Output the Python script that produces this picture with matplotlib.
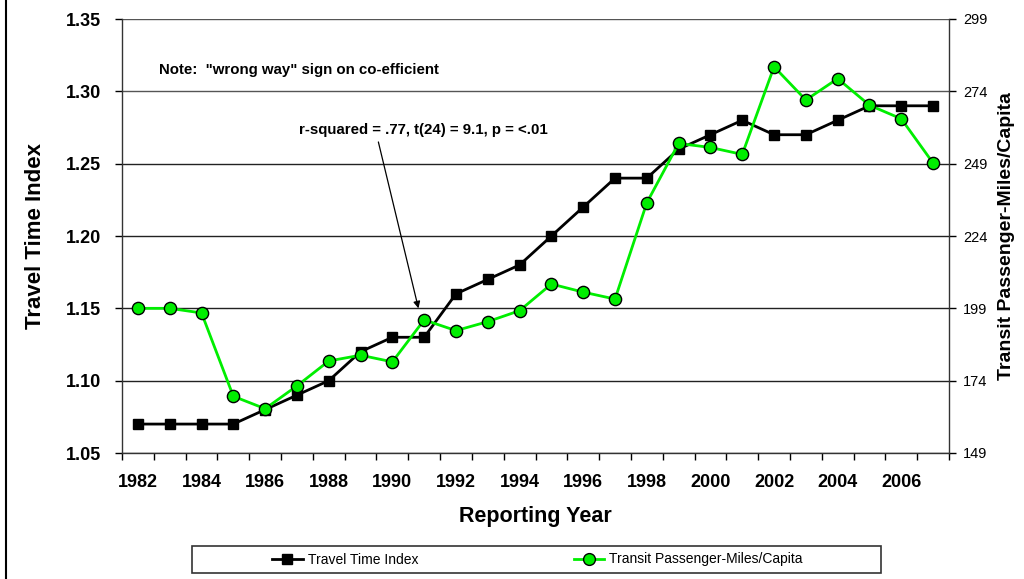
import matplotlib
matplotlib.use("Agg")
import matplotlib.pyplot as plt
from matplotlib.patches import Rectangle
from matplotlib.lines import Line2D
import numpy as np

plt.rcParams['font.family'] = ['Liberation Sans', 'DejaVu Sans']

years = list(range(1982, 2008))
travel_time_index = [1.07, 1.07, 1.07, 1.07, 1.08, 1.09, 1.10, 1.12, 1.13, 1.13,
                     1.16, 1.17, 1.18, 1.20, 1.22, 1.24, 1.24, 1.26, 1.27, 1.28,
                     1.27, 1.27, 1.28, 1.29, 1.29, 1.29]
transit_pmc = [199.0, 199.0, 197.4, 168.6, 164.3, 172.2, 180.8, 182.8, 180.5, 195.0,
               191.3, 194.4, 198.2, 207.4, 204.6, 202.2, 235.5, 256.0, 254.6, 252.2,
               282.5, 271.0, 278.4, 269.2, 264.5, 249.2]
left_ticks = [1.05, 1.10, 1.15, 1.20, 1.25, 1.30, 1.35]
right_ticks = [149, 174, 199, 224, 249, 274, 299]
year_labels = list(range(1982, 2007, 2))

fig = plt.figure(figsize=(10.24, 5.79), dpi=100)
ax = fig.add_axes([122/1024, 1-453/579, (949-122)/1024, (453-19)/579])

ax.plot(years, travel_time_index, color='black', lw=2.0, marker='s',
        markersize=7.8, markerfacecolor='black', markeredgecolor='black', zorder=3)
ax.set_xlim(1981.5, 2007.5)
ax.set_ylim(1.05, 1.35)
ax.set_yticks(left_ticks)
ax.set_yticklabels([f"{v:.2f}" for v in left_ticks], fontsize=13, fontweight='bold')
ax.set_xticks(year_labels)
ax.set_xticklabels([str(y) for y in year_labels], fontsize=13, fontweight='bold')
ax.set_xticks(np.arange(1981.5, 2008, 1), minor=True)
ax.tick_params(axis='x', which='major', length=0, pad=15)
ax.tick_params(axis='x', which='minor', length=5, direction='out', width=1)
ax.tick_params(axis='y', length=5, direction='out', width=1, pad=10)
for i, v in enumerate(left_ticks):
    ax.axhline(v, color='#555555' if v >= 1.30 else '#222222', lw=1.0, zorder=1)
ax.spines['top'].set_visible(False)
ax.spines['right'].set_visible(False)
for s in ['left', 'bottom']:
    ax.spines[s].set_color('#333333')
    ax.spines[s].set_linewidth(1.0)

ax.set_ylabel('Travel Time Index', fontsize=16, fontweight='bold', labelpad=14)
ax.set_xlabel('Reporting Year', fontsize=15.5, fontweight='bold', labelpad=11)

ax2 = ax.twinx()
ax2.plot(years, transit_pmc, color='#00ee00', lw=2.0, marker='o', markersize=8.8,
         markerfacecolor='#00ee00', markeredgecolor='black', markeredgewidth=1.0, zorder=4)
ax2.set_ylim(149, 299)
ax2.set_yticks(right_ticks)
ax2.set_yticklabels([str(v) for v in right_ticks], fontsize=10.5)
ax2.tick_params(axis='y', length=5, direction='out', width=1, pad=5)
for s in ['top', 'left', 'bottom']:
    ax2.spines[s].set_visible(False)
ax2.spines['right'].set_color('#333333')
ax2.spines['right'].set_linewidth(1.0)
ax2.set_ylabel('Transit Passenger-Miles/Capita', fontsize=14, fontweight='bold', labelpad=8)

ax.text(1982.66, 1.3147, 'Note:  "wrong way" sign on co-efficient', fontsize=10.8,
        fontweight='bold', va='center', ha='left')
ax.text(1990.97, 1.273, 'r-squared = .77, t(24) = 9.1, p = <.01', fontsize=10.8,
        fontweight='bold', va='center', ha='center')
ax.annotate('', xy=(1990.82, 1.150), xytext=(1989.56, 1.265),
            arrowprops=dict(arrowstyle='-|>', color='black', lw=0.9,
                            mutation_scale=10, shrinkA=0, shrinkB=0))

# legend box
fig.patches.append(Rectangle((192/1024, 1-573/579), (881-192)/1024, 27/579,
                             transform=fig.transFigure, fill=False,
                             edgecolor='#333333', lw=1.2))
h1 = Line2D([], [], color='black', lw=2.0, marker='s', markersize=7.5)
h2 = Line2D([], [], color='#00ee00', lw=2.0, marker='o', markersize=8.5,
            markerfacecolor='#00ee00', markeredgecolor='black')
fig.legend([h1, h2], ['Travel Time Index', 'Transit Passenger-Miles/Capita'],
           loc='center', bbox_to_anchor=(537.5/1024, 1-559.5/579),
           ncol=2, frameon=False, fontsize=10, handlelength=2.2,
           handletextpad=0.36, columnspacing=11.2)

# figure left border line
fig.add_artist(Line2D([6/1024, 6/1024], [0, 1], transform=fig.transFigure,
                      color='black', lw=1.5))

fig.savefig('out.png', dpi=100)
